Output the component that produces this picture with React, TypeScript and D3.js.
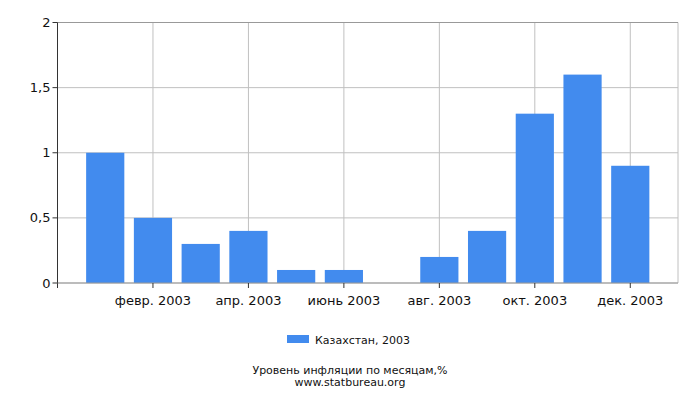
import React, { useEffect, useRef } from 'react';
import * as d3 from 'd3';

const months = ['янв. 2003', 'февр. 2003', 'март 2003', 'апр. 2003', 'май 2003', 'июнь 2003', 'июль 2003', 'авг. 2003', 'сент. 2003', 'окт. 2003', 'нояб. 2003', 'дек. 2003'];
const values = [1.0, 0.5, 0.3, 0.4, 0.1, 0.1, 0, 0.2, 0.4, 1.3, 1.6, 0.9];
const labeledMonths = ['февр. 2003', 'апр. 2003', 'июнь 2003', 'авг. 2003', 'окт. 2003', 'дек. 2003'];
const yTicks = [0, 0.5, 1, 1.5, 2];
const seriesName = 'Казахстан, 2003';

const App: React.FC = () => {
  const svgRef = useRef<SVGSVGElement>(null);

  useEffect(() => {
    if (!svgRef.current) return;
    const width = 700;
    const height = 400;
    const margin = { top: 22.5, right: 22, bottom: 117, left: 57.5 };
    const font = 'DejaVu Sans, sans-serif';

    const svg = d3.select(svgRef.current);
    svg.selectAll('*').remove();

    const x = d3.scaleBand<string>()
      .domain(months)
      .range([margin.left, width - margin.right])
      .paddingInner(0.2)
      .paddingOuter(0.6);
    const y = d3.scaleLinear().domain([0, 2]).range([height - margin.bottom, margin.top]);

    const x0 = margin.left;
    const x1 = width - margin.right;
    const yb = y(0);

    // grid
    svg.append('g').selectAll('line')
      .data(yTicks)
      .enter().append('line')
      .attr('x1', x0).attr('x2', x1)
      .attr('y1', (d) => y(d)).attr('y2', (d) => y(d))
      .attr('stroke', '#c0c0c0');
    svg.append('g').selectAll('line')
      .data(labeledMonths)
      .enter().append('line')
      .attr('x1', (d) => x(d)! + x.bandwidth() / 2).attr('x2', (d) => x(d)! + x.bandwidth() / 2)
      .attr('y1', margin.top).attr('y2', yb)
      .attr('stroke', '#c0c0c0');
    svg.append('line')
      .attr('x1', x1).attr('x2', x1).attr('y1', margin.top).attr('y2', yb)
      .attr('stroke', '#c0c0c0');
    svg.append('line')
      .attr('x1', x0).attr('x2', x1).attr('y1', margin.top).attr('y2', margin.top)
      .attr('stroke', '#999');

    // bars
    svg.append('g').selectAll('rect')
      .data(values.map((v, i) => ({ m: months[i], v })))
      .enter().append('rect')
      .attr('x', (d) => x(d.m)!)
      .attr('width', x.bandwidth())
      .attr('y', (d) => y(d.v))
      .attr('height', (d) => yb - y(d.v))
      .attr('fill', '#428bee');

    // axes
    svg.append('line')
      .attr('x1', x0).attr('x2', x0).attr('y1', margin.top).attr('y2', yb + 5)
      .attr('stroke', '#333');
    svg.append('line')
      .attr('x1', x0).attr('x2', x1).attr('y1', yb).attr('y2', yb)
      .attr('stroke', '#999');

    const yAxis = svg.append('g');
    yAxis.selectAll('line')
      .data(yTicks)
      .enter().append('line')
      .attr('x1', x0 - 5).attr('x2', x0)
      .attr('y1', (d) => y(d)).attr('y2', (d) => y(d))
      .attr('stroke', '#333');
    yAxis.selectAll('text')
      .data(yTicks)
      .enter().append('text')
      .attr('x', x0 - 7)
      .attr('y', (d) => y(d))
      .attr('dy', '0.35em')
      .attr('text-anchor', 'end')
      .attr('font-family', font)
      .attr('font-size', 13)
      .attr('fill', '#111')
      .text((d) => String(d).replace('.', ','));

    const xAxis = svg.append('g');
    xAxis.selectAll('line')
      .data(labeledMonths)
      .enter().append('line')
      .attr('x1', (d) => x(d)! + x.bandwidth() / 2).attr('x2', (d) => x(d)! + x.bandwidth() / 2)
      .attr('y1', yb).attr('y2', yb + 5)
      .attr('stroke', '#333');
    xAxis.selectAll('text')
      .data(labeledMonths)
      .enter().append('text')
      .attr('x', (d) => x(d)! + x.bandwidth() / 2)
      .attr('y', yb + 22)
      .attr('text-anchor', 'middle')
      .attr('font-family', font)
      .attr('font-size', 13)
      .attr('fill', '#111')
      .text((d) => d);

    // legend
    svg.append('rect')
      .attr('x', 287).attr('y', 335).attr('width', 22).attr('height', 8)
      .attr('fill', '#428bee');
    svg.append('text')
      .attr('x', 315).attr('y', 344)
      .attr('font-family', font).attr('font-size', 11).attr('fill', '#111')
      .text(seriesName);

    // title
    svg.append('text')
      .attr('x', width / 2).attr('y', 374)
      .attr('text-anchor', 'middle')
      .attr('font-family', font).attr('font-size', 11).attr('fill', '#111')
      .text('Уровень инфляции по месяцам,%');
    svg.append('text')
      .attr('x', width / 2).attr('y', 386)
      .attr('text-anchor', 'middle')
      .attr('font-family', font).attr('font-size', 11).attr('fill', '#111')
      .text('www.statbureau.org');
  }, []);

  return (
    <svg ref={svgRef} width={700} height={400} style={{ position: 'absolute', left: 0, top: 0, background: '#fff' }} />
  );
};

export default App;
